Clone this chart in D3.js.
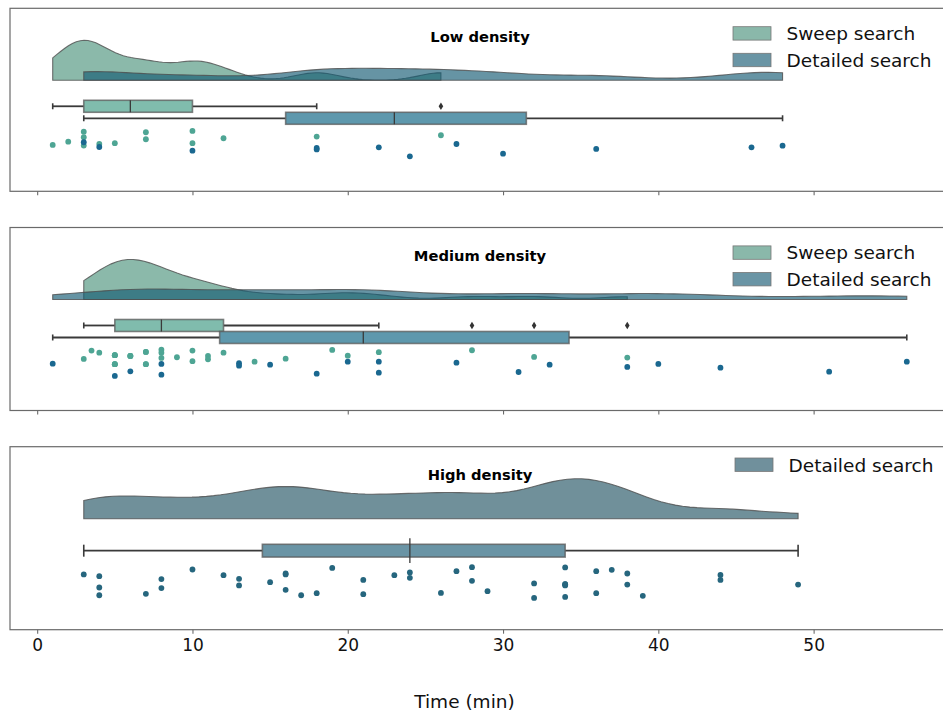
<!DOCTYPE html>
<html>
<head>
<meta charset="utf-8">
<script src="https://cdn.jsdelivr.net/npm/d3@7"></script>
<style>
body { margin: 0; background: #fff; }
text { font-family: "DejaVu Sans", sans-serif; }
</style>
</head>
<body>
<div id="chart"></div>
<script>
// ---- data (minutes) ----
var panelTitles = ["Low density", "Medium density", "High density"];
var seriesNames = ["Sweep search", "Detailed search"];
var xTicks = [0, 10, 20, 30, 40, 50];

var lowSweep = [1, 2, 3, 3, 3, 4, 5, 7, 7, 10, 10, 12, 18, 26];
var lowSweepJitter = [0.92, 0.48, -0.85, -0.11, 1.0, 0.79, 0.69, -0.77, 0.16, -0.95, 0.69, 0.03, -0.19, -0.37];

var lowDetailed = [3, 4, 10, 18, 18, 22, 24, 27, 30, 36, 46, 48];
var lowDetailedJitter = [-0.96, -0.33, 0.16, -0.2, 0.0, -0.29, 0.91, -0.73, 0.56, -0.07, -0.29, -0.51];

var medSweep = [3, 3.5, 4, 5, 5, 5, 5, 5, 5, 6, 6, 6, 7, 7, 7, 7, 8, 8, 8, 9, 10, 10, 11, 11, 12, 14, 16, 19, 20, 22, 28, 32, 38];
var medSweepJitter = [0.23, -0.88, -0.61, -0.27, 0.93, -0.27, 0.93, -0.27, 0.93, -0.17, -0.17, -0.17, -0.71, 0.93, -0.71, 0.93,
    -1.0, -0.61, 0.09, 0.0, -0.88, 0.53, -0.17, 0.27, -0.61, 0.59, 0.19, -0.97, -0.21, -0.67, -0.93, -0.04, 0.05];

var medDetailed = [1, 5, 6, 8, 8, 13, 13, 15, 18, 20, 22, 22, 27, 31, 33, 38, 40, 44, 51, 56];
var medDetailedJitter = [-0.67, 0.97, 0.35, -0.63, 0.8, -0.72, -0.4, -0.53, 0.67, -0.93, -0.93, 0.53, -0.8, 0.44, -0.53, -0.23, -0.63, -0.13, 0.4, -0.93];

var highDetailed = [3, 4, 4, 4, 7, 8, 8, 10, 12, 13, 13, 15, 16, 16, 16, 17, 18, 19, 21, 21, 23, 24, 24, 26, 27, 28, 28, 29,
    32, 32, 34, 34, 34, 34, 34, 36, 36, 37, 38, 38, 39, 44, 44, 49];
var highDetailedJitter = [-0.53, -0.42, 0.31, 0.81, 0.72, -0.23, 0.35, -0.85, -0.48, -0.25, 0.18, -0.03, -0.59, -0.53, 0.46,
    0.81, 0.68, -0.95, -0.18, 0.74, -0.48, -0.66, -0.31, 0.66, -0.74, -1.0, -0.12, 0.55, 0.05, 0.98, -0.98, 0.1, 0.18, 0.92,
    0.1, -0.74, 0.68, -0.83, -0.59, 0.12, 0.85, -0.5, -0.18, 0.12];

var panels = [
    { title: panelTitles[0], groups: [
        { name: seriesNames[0], values: lowSweep, jitter: lowSweepJitter, kind: "sweep" },
        { name: seriesNames[1], values: lowDetailed, jitter: lowDetailedJitter, kind: "detailed" }] },
    { title: panelTitles[1], groups: [
        { name: seriesNames[0], values: medSweep, jitter: medSweepJitter, kind: "sweep" },
        { name: seriesNames[1], values: medDetailed, jitter: medDetailedJitter, kind: "detailed" }] },
    { title: panelTitles[2], groups: [
        { name: seriesNames[1], values: highDetailed, jitter: highDetailedJitter, kind: "high" }] }
];

var styles = {
    sweep:    { cloud: "#4d937d", box: "#80bcad", dot: "#4ea594", patch: "#8ab8aa" },
    detailed: { cloud: "#145b73", box: "#5e98ad", dot: "#1a6890", patch: "#6a95a5" },
    high:     { cloud: "#235564", box: "#6a94a5", dot: "#26667e", patch: "#70909c" }
};

var bwFactor = 0.2;

// ---- layout ----
var width = 943, height = 716;
var plotLeft = 10, plotRight = 949.5;
var panelTops = [8.3, 227.5, 446.7];
var panelHeight = 183;

var x = d3.scaleLinear().domain([-1.75, 58.75]).range([plotLeft, plotRight]);

var svg = d3.select("#chart")
    .append("svg")
    .attr("width", width)
    .attr("height", height);

function gaussianKde(values, factor) {
    var mean = d3.mean(values);
    var sd = Math.sqrt(d3.sum(values, function(v) { return (v - mean) * (v - mean); }) / (values.length - 1));
    var bw = factor * sd;
    var lo = d3.min(values), hi = d3.max(values);
    var grid = d3.range(100).map(function(i) { return lo + (hi - lo) * i / 99; });
    return grid.map(function(g) {
        var s = d3.sum(values, function(v) {
            var z = (g - v) / bw;
            return Math.exp(-0.5 * z * z);
        });
        return [g, s / (values.length * bw * Math.sqrt(2 * Math.PI))];
    });
}

function boxStats(values) {
    var s = values.slice().sort(d3.ascending);
    var q1 = d3.quantileSorted(s, 0.25), med = d3.quantileSorted(s, 0.5), q3 = d3.quantileSorted(s, 0.75);
    var iqr = q3 - q1;
    var inside = s.filter(function(v) { return v >= q1 - 1.5 * iqr && v <= q3 + 1.5 * iqr; });
    return {
        q1: q1, med: med, q3: q3,
        lo: d3.min(inside), hi: d3.max(inside),
        out: s.filter(function(v) { return v < q1 - 1.5 * iqr || v > q3 + 1.5 * iqr; })
    };
}

function drawPanel(panel, i) {
    var top = panelTops[i];
    var y = d3.scaleLinear().domain([-0.65, 0.494]).range([top, top + panelHeight]);
    var g = svg.append("g");
    var nHue = panel.groups.length;

    // clouds
    var dens = panel.groups.map(function(grp) { return gaussianKde(grp.values, bwFactor); });
    var maxD = d3.max(dens, function(d) { return d3.max(d, function(p) { return p[1]; }); });
    var area = d3.area()
        .x(function(d) { return x(d[0]); })
        .y0(y(-0.2))
        .y1(function(d) { return y(-0.2 - d[1] / maxD * 0.25); });

    panel.groups.forEach(function(grp, k) {
        g.append("path")
            .attr("d", area(dens[k]))
            .attr("fill", styles[grp.kind].cloud)
            .attr("fill-opacity", 0.65)
            .attr("stroke", "#4d4d4d")
            .attr("stroke-opacity", 0.8)
            .attr("stroke-width", 1.1);
    });

    // boxes
    panel.groups.forEach(function(grp, k) {
        var st = boxStats(grp.values);
        var c = nHue > 1 ? (k === 0 ? -0.0375 : 0.0375) : 0;
        var bh = nHue > 1 ? 0.075 : 0.08;
        var capH = nHue > 1 ? bh / 2 : 0.075;
        var medH = nHue > 1 ? bh : 0.155;
        var line = "#3a3a3a";

        g.append("line")
            .attr("x1", x(st.lo)).attr("x2", x(st.q1))
            .attr("y1", y(c)).attr("y2", y(c))
            .attr("stroke", line).attr("stroke-width", 1.8);
        g.append("line")
            .attr("x1", x(st.q3)).attr("x2", x(st.hi))
            .attr("y1", y(c)).attr("y2", y(c))
            .attr("stroke", line).attr("stroke-width", 1.8);
        [st.lo, st.hi].forEach(function(v) {
            g.append("line")
                .attr("x1", x(v)).attr("x2", x(v))
                .attr("y1", y(c - capH / 2)).attr("y2", y(c + capH / 2))
                .attr("stroke", line).attr("stroke-width", 1.6);
        });
        g.append("rect")
            .attr("x", x(st.q1))
            .attr("y", y(c - bh / 2))
            .attr("width", x(st.q3) - x(st.q1))
            .attr("height", y(c + bh / 2) - y(c - bh / 2))
            .attr("fill", styles[grp.kind].box)
            .attr("stroke", "#5a5a5a")
            .attr("stroke-opacity", 0.75)
            .attr("stroke-width", 1.6);
        g.append("line")
            .attr("x1", x(st.med)).attr("x2", x(st.med))
            .attr("y1", y(c - medH / 2)).attr("y2", y(c + medH / 2))
            .attr("stroke", line).attr("stroke-width", 1.3);
        g.selectAll(null)
            .data(st.out)
            .enter()
            .append("path")
            .attr("transform", function(d) { return "translate(" + x(d) + "," + y(c) + ")"; })
            .attr("d", "M0,-3.8L2.3,0L0,3.8L-2.3,0Z")
            .attr("fill", "#333");
    });

    // rain
    panel.groups.forEach(function(grp, k) {
        var c = nHue > 1 ? (k === 0 ? 0.161 : 0.2325) : 0.2;
        var hw = nHue > 1 ? 0.047 : 0.097;
        g.selectAll(null)
            .data(grp.values)
            .enter()
            .append("circle")
            .attr("cx", function(d) { return x(d); })
            .attr("cy", function(d, j) { return y(c + grp.jitter[j] * hw); })
            .attr("r", 2.9)
            .attr("fill", styles[grp.kind].dot);
    });

    // frame
    g.append("rect")
        .attr("x", plotLeft)
        .attr("y", top)
        .attr("width", plotRight - plotLeft)
        .attr("height", panelHeight)
        .attr("fill", "none")
        .attr("stroke", "#6a6a6a")
        .attr("stroke-width", 1.2);

    var axis = d3.axisBottom(x).tickValues(xTicks).tickSize(4).tickSizeOuter(0)
        .tickFormat(i === 2 ? d3.format("d") : function() { return ""; });
    var ax = g.append("g")
        .attr("transform", "translate(0," + (top + panelHeight) + ")")
        .call(axis);
    ax.select(".domain").remove();
    ax.selectAll(".tick line").attr("stroke", "#6a6a6a").attr("stroke-width", 1.1);
    ax.selectAll(".tick text")
        .attr("font-family", "DejaVu Sans")
        .attr("font-size", "17px")
        .attr("fill", "#111")
        .attr("dy", "0.71em")
        .attr("y", 9);

    // title
    g.append("text")
        .text(panel.title)
        .attr("x", 480)
        .attr("y", top + 33.2)
        .attr("text-anchor", "middle")
        .attr("font-weight", "bold")
        .attr("font-size", "14.7px")
        .attr("fill", "#000");

    // legend
    var legX = nHue > 1 ? 733 : 735;
    var legY = nHue > 1 ? 18.4 : 11.3;
    panel.groups.forEach(function(grp, k) {
        var py = top + legY + k * 26.6;
        g.append("rect")
            .attr("x", legX).attr("y", py)
            .attr("width", 38).attr("height", 13.4)
            .attr("fill", styles[grp.kind].patch)
            .attr("stroke", "#777")
            .attr("stroke-width", 0.8);
        g.append("text")
            .text(grp.name)
            .attr("x", legX + 53.5)
            .attr("y", py + 13.5)
            .attr("font-size", "18.5px")
            .attr("fill", "#111");
    });
}

panels.forEach(drawPanel);

svg.append("text")
    .text("Time (min)")
    .attr("x", 464.5)
    .attr("y", 707.5)
    .attr("text-anchor", "middle")
    .attr("font-size", "18.5px")
    .attr("fill", "#111");
</script>
</body>
</html>
